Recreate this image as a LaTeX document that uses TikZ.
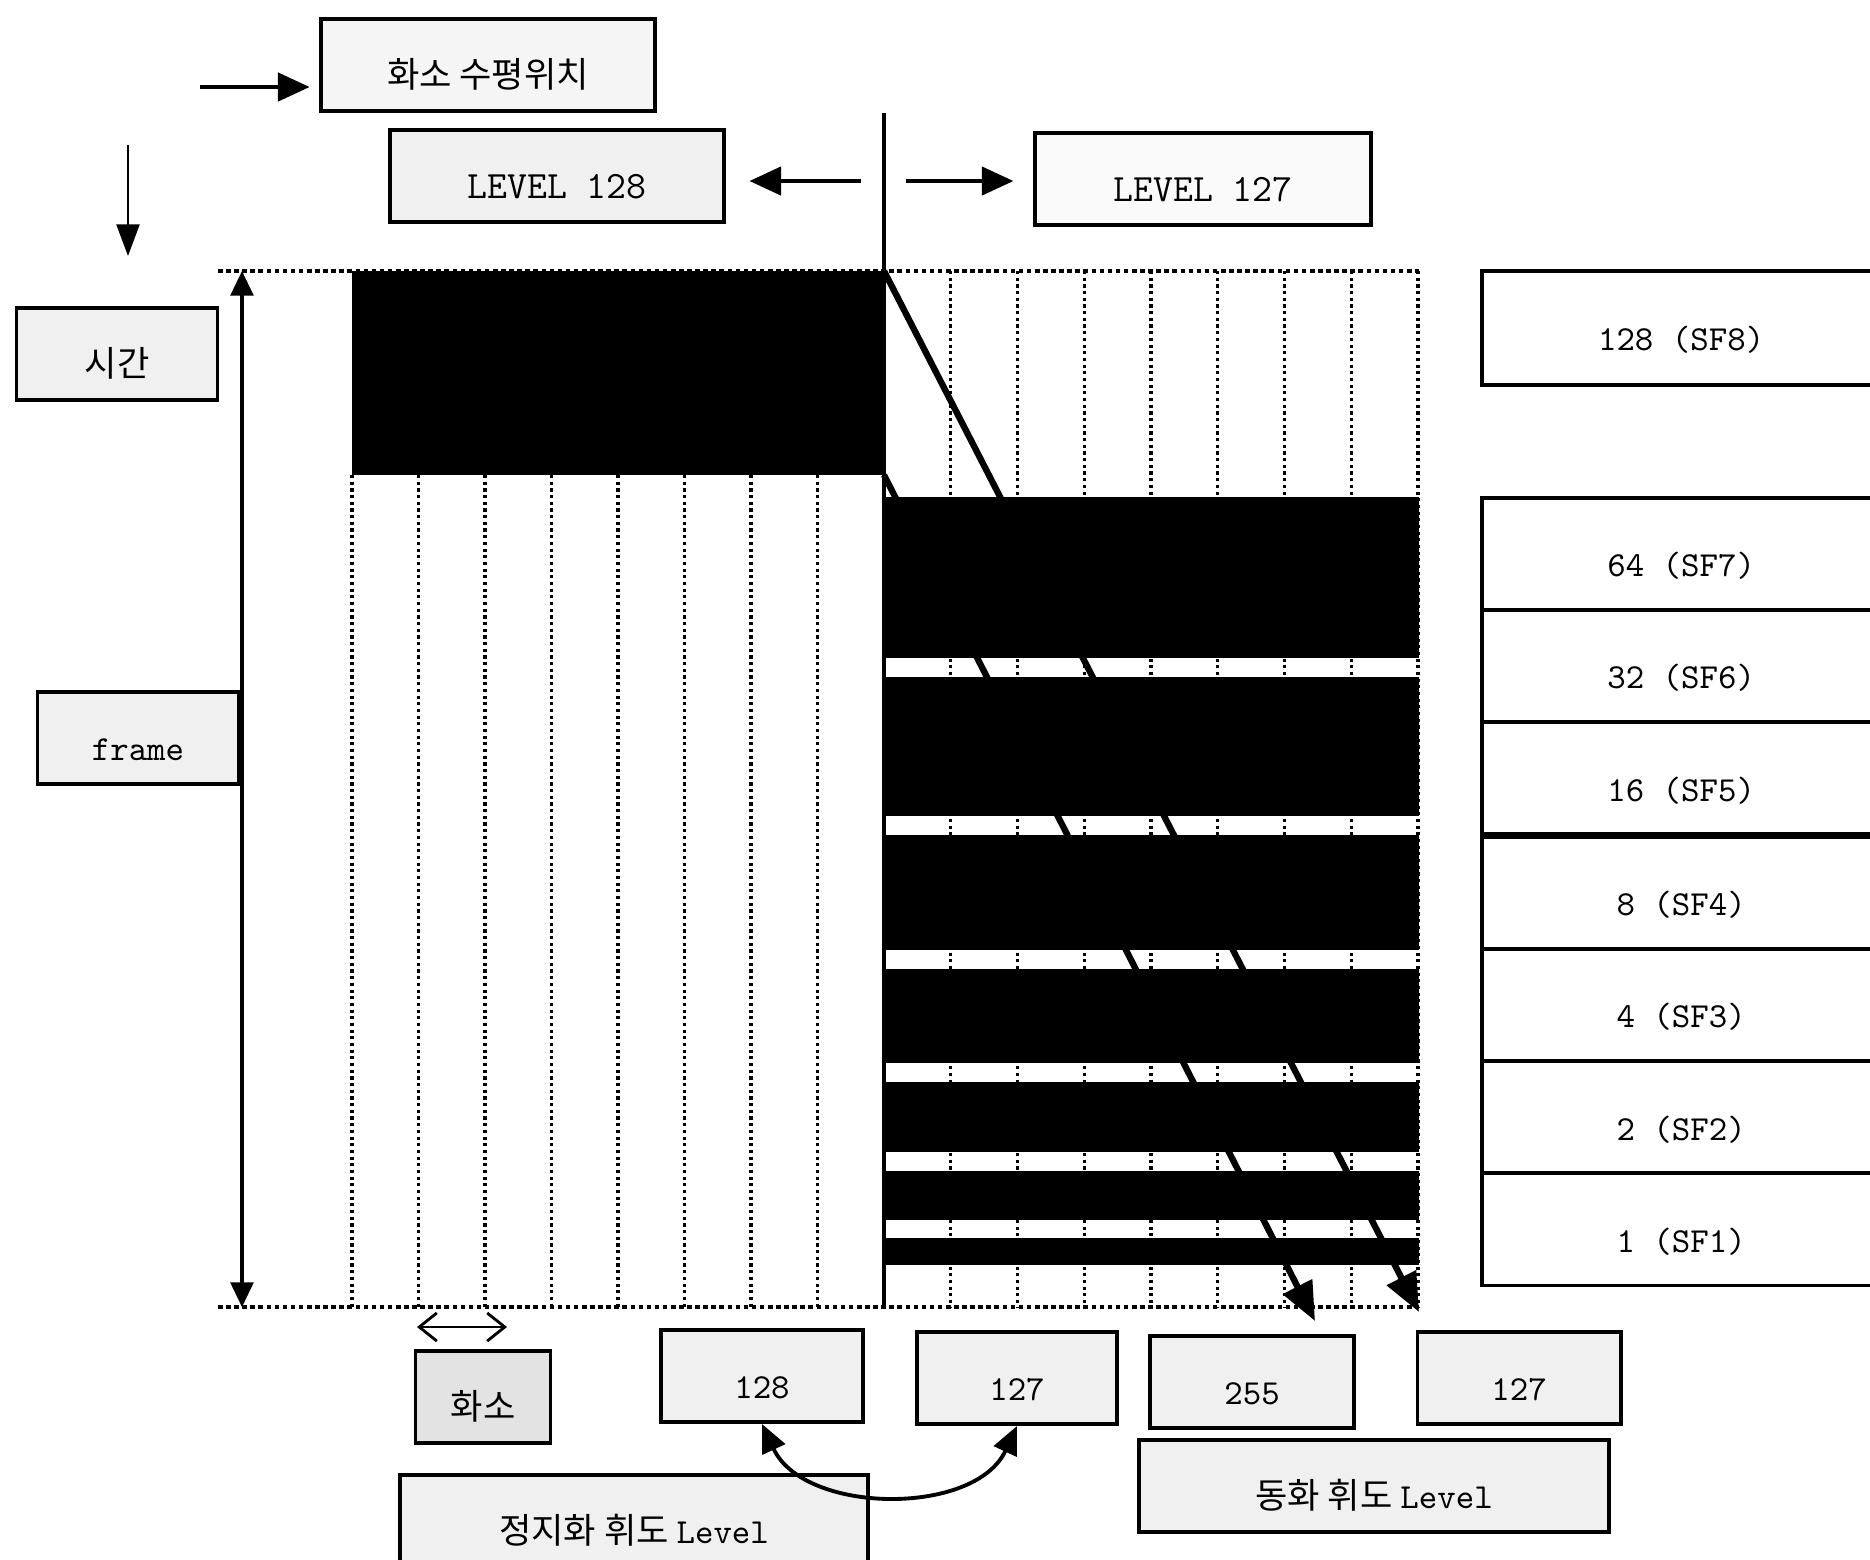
\documentclass[tikz,border=0pt]{standalone}
\usepackage{fontspec}
\newfontfamily\krfont{Noto Sans CJK KR}
\usetikzlibrary{arrows.meta, positioning}

\begin{document}
\begin{tikzpicture}[x=0.01cm, y=0.01cm,
    box/.style = {draw, line width=1.1pt, fill=gray!12, inner sep=0pt, minimum height=0.92cm, text height=15pt, text depth=2pt},
    sfbox/.style = {draw, line width=1pt, fill=white, inner sep=0pt, outer sep=0pt, minimum width=3.98cm, minimum height=1.12cm, text height=15pt, text depth=2pt, font=\ttfamily},
    colline/.style = {densely dotted, line width=0.9pt},
    rimline/.style = {densely dotted, line width=1.3pt}]
    \useasboundingbox (0,0) rectangle (1870,-1559);

    % column grid and sub-field bands
    \foreach \i in {0,...,7}
        \draw[colline] (352+66.5*\i,-475) -- (352+66.5*\i,-1307);
    \foreach \i in {1,...,8}
        \draw[colline] (884+66.75*\i,-271) -- (884+66.75*\i,-1307);
    \fill (352,-271) rectangle (884,-475);
    \foreach \t/\b in {497/658, 677/816, 835/950, 969/1063, 1082/1152, 1171/1220, 1238/1265}
        \fill (884,-\t) rectangle (1419,-\b);
    \draw[rimline] (218,-271) -- (1419,-271);
    \draw[rimline] (218,-1307) -- (1419,-1307);
    \draw[line width=0.9pt] (884,-113) -- (884,-1307);

    % top labels
    \node[box, fill=gray!8, minimum width=3.33cm] (hpos) at (488,-65) {\krfont 화소 수평위치};
    \node[box, minimum width=3.33cm, font=\ttfamily\fontsize{11}{13}\selectfont] (lv128) at (557,-176) {LEVEL 128};
    \node[box, fill=gray!4, minimum width=3.35cm, font=\ttfamily\fontsize{11}{13}\selectfont] (lv127) at (1203,-179) {LEVEL 127};
    \node[box, minimum width=2.01cm] (time) at (117,-354) {\krfont 시간};
    \node[box, minimum width=2.01cm, font=\ttfamily] (frame) at (138,-738) {frame};

    \coordinate (hposin) at (200,-87);
    \coordinate (lvsplit) at (884,-181);
    \coordinate (tdown) at (128,-145);
    \coordinate (tdownend) at (128,-256);
    \coordinate (ftop) at (242,-271);
    \coordinate (fbot) at (242,-1307);
    \draw[line width=1.2pt, -{Triangle[length=9pt, width=8pt]}, shorten >=2.8pt] (hposin) -- (hposin -| hpos.west);
    \draw[line width=1.2pt, -{Triangle[length=9pt, width=8pt]}, shorten <=6.5pt, shorten >=6.8pt] (lvsplit) -- (lvsplit -| lv128.east);
    \draw[line width=1.2pt, -{Triangle[length=9pt, width=8pt]}, shorten <=6.3pt, shorten >=5.7pt] (lvsplit) -- (lvsplit -| lv127.west);
    \draw[line width=0.8pt, -{Triangle[length=9pt, width=6.5pt]}] (tdown) -- (tdownend);
    \draw[line width=0.9pt, {Triangle[length=7pt, width=6.5pt]}-{Triangle[length=7pt, width=6.5pt]}] (ftop) -- (fbot);

    % level paths through the frame
    \coordinate (d1s) at (884,-271);
    \coordinate (d1e) at (1419,-1312);
    \coordinate (d2s) at (884,-475);
    \coordinate (d2e) at (1315,-1321);
    \draw[line width=1.8pt, -{Triangle[length=11pt, width=9pt]}] (d1s) -- (d1e);
    \draw[line width=1.8pt, -{Triangle[length=11pt, width=9pt]}] (d2s) -- (d2e);

    % sub-field weights
    \node[sfbox, anchor=north west, minimum height=1.14cm] (sf8) at (1482,-271) {128 (SF8)};
    \node[sfbox, anchor=north west] (sf7) at (1482,-498) {64 (SF7)};
    \node[sfbox, below=0pt of sf7] (sf6) {32 (SF6)};
    \node[sfbox, below=0pt of sf6] (sf5) {16 (SF5)};
    \node[sfbox, anchor=north west] (sf4) at (1482,-837) {8 (SF4)};
    \node[sfbox, below=0pt of sf4] (sf3) {4 (SF3)};
    \node[sfbox, below=0pt of sf3] (sf2) {2 (SF2)};
    \node[sfbox, below=0pt of sf2] (sf1) {1 (SF1)};

    % bottom labels
    \coordinate (px1) at (417,-1327);
    \coordinate (px2) at (507,-1327);
    \draw[line width=0.8pt, {Straight Barb[length=5pt, width=8pt]}-{Straight Barb[length=5pt, width=8pt]}] (px1) -- (px2);
    \node[box, fill=gray!22, minimum width=1.35cm] (pix) at (483,-1397) {\krfont 화소};
    \node[box, minimum width=2.02cm, font=\ttfamily] (s128) at (762,-1376) {128};
    \node[box, minimum width=2.00cm, font=\ttfamily] (s127) at (1017,-1378) {127};
    \node[box, minimum width=2.04cm, font=\ttfamily] (m255) at (1252,-1382) {255};
    \node[box, minimum width=2.03cm, font=\ttfamily] (m127) at (1519,-1378) {127};
    \node[box, minimum width=4.68cm] (still) at (634,-1521) {\krfont 정지화 휘도 {\ttfamily Level}};
    \node[box, minimum width=4.69cm] (moving) at (1374,-1486) {\krfont 동화 휘도 {\ttfamily Level}};
    \draw[line width=1.1pt, {Triangle[length=8pt, width=7pt]}-{Triangle[length=8pt, width=7pt]}] (s128.south) to[out=-65, in=-115] (s127.south);
\end{tikzpicture}
\end{document}
